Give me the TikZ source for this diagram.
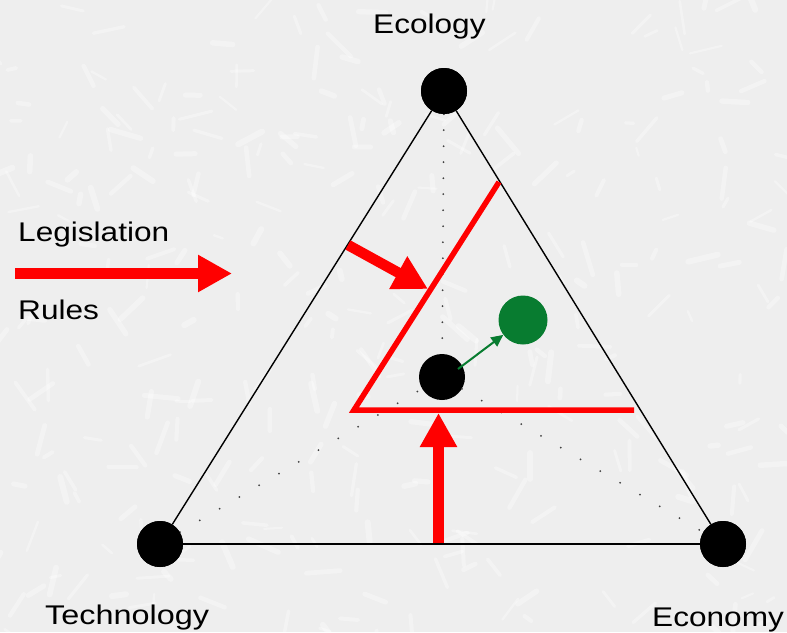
\documentclass[tikz,border=0pt]{standalone}
\usepackage{fontspec}
\newfontfamily\labfont[FakeStretch=1.17]{Liberation Sans}
\usetikzlibrary{arrows.meta}
\definecolor{paper}{RGB}{238,238,238}
\definecolor{leafgreen}{RGB}{8,124,48}
\begin{document}
\begin{tikzpicture}[x=1pt,y=-1pt,
  pole/.style={circle,fill=black,minimum size=46pt,inner sep=0pt},
  lbl/.style={font=\labfont\fontsize{27}{30}\selectfont,inner sep=0pt,anchor=base west},
  sideline/.style={draw=black,line width=1.4pt},
  trace/.style={draw=black!75,line width=2pt,line cap=round,dash pattern=on 0pt off #1},
  limit/.style={draw=red,line width=5.5pt,line join=miter},
  push/.style={draw=red,line width=10.5pt,-{Triangle[length=34pt,width=35pt]}},
  shiftarrow/.style={draw=leafgreen,line width=2pt,-{Triangle[length=12pt,width=11pt]}},
  grain/.style={draw=white,line cap=round,opacity=0.35}
]
% paper background with light streaks
\useasboundingbox (0,0) rectangle (787,632);
\fill[paper] (0,0) rectangle (787,632);
\begin{scope}
  \clip (0,0) rectangle (787,632);
  \pgfmathsetseed{11}
  \foreach \i in {1,...,300}{
    \pgfmathsetmacro{\px}{787*rnd}
    \pgfmathsetmacro{\py}{632*rnd}
    \pgfmathsetmacro{\pa}{360*rnd}
    \pgfmathsetmacro{\pl}{8+26*rnd}
    \pgfmathsetmacro{\pw}{2+4*rnd}
    \draw[grain,line width=\pw pt] (\px,\py) -- ++(\pa:\pl);
  }
\end{scope}

% the three poles and the current position
\node[pole] (eco) at (444,91) {};
\node[pole] (tech) at (160,544) {};
\node[pole] (econ) at (723,544) {};
\node[pole] (mid) at (442,377) {};
\node[circle,fill=leafgreen,minimum size=49pt,inner sep=0pt] (green) at (523,320) {};

% dotted guides towards the current position
\draw[trace=16pt] (eco) -- (mid);
\draw[trace=23pt] (tech) -- (mid);
\draw[trace=23pt] (mid) -- (econ);

% triangle sides
\draw[sideline] (eco) -- (tech);
\draw[sideline] (eco) -- (econ);
\draw[sideline] (tech) -- (econ);

% redraw poles above the sides
\node[pole] at (eco) {};
\node[pole] at (tech) {};
\node[pole] at (econ) {};

% constraint boundary
\coordinate (ztop) at (499,182);
\coordinate (zcorner) at (354,410);
\coordinate (zright) at (634,410);
\draw[limit] (ztop) -- (zcorner) -- (zright);

% pressure arrows
\coordinate (lstart) at (15,273.5);
\coordinate (ltip) at (232,273.5);
\draw[push] (lstart) -- (ltip);
\coordinate (ustart) at (348,245);
\coordinate (utip) at (428,289);
\draw[push] (ustart) -- (utip);
\coordinate (pbase) at (438.5,543);
\coordinate (ptip) at (438.5,413);
\draw[push] (pbase) -- (ptip);

% movement of the position
\coordinate (gstart) at (458,369);
\draw[shiftarrow] (gstart) -- (green);

% labels
\node[lbl] (tEco) at (373,33) {Ecology};
\node[lbl] (tLeg) at (18,241) {Legislation};
\node[lbl] (tRul) at (18,319) {Rules};
\node[lbl] (tTec) at (45,624) {\scalebox{1.025}[1]{Technology}};
\node[lbl] (tEcn) at (652,626) {Economy};
\end{tikzpicture}
\end{document}
